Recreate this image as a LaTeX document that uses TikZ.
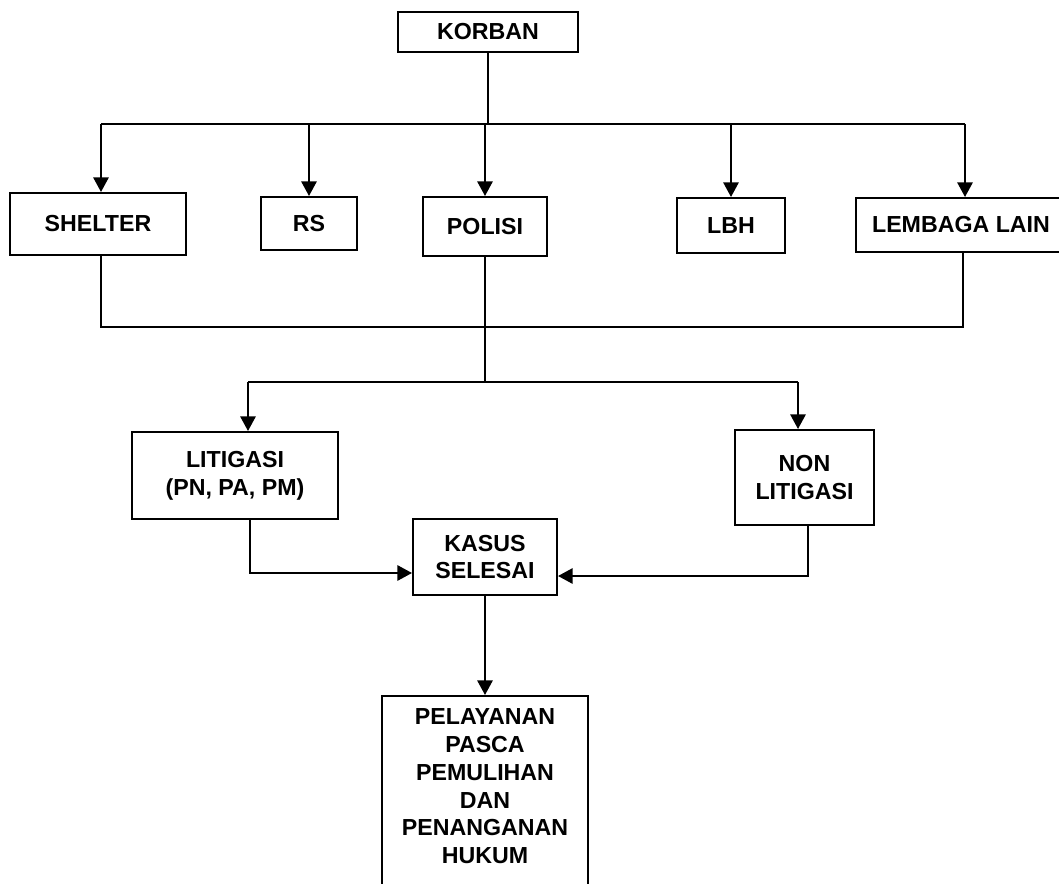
\documentclass[tikz,border=0pt]{standalone}
\usepackage{fontspec}
\setmainfont{Liberation Sans}
\usetikzlibrary{arrows.meta,calc}
\begin{document}
\begin{tikzpicture}[x=0.75pt,y=-0.75pt,
  box/.style={draw,line width=1.5pt,align=center,inner sep=0pt,
    font=\fontsize{17.4}{20.8}\selectfont\bfseries},
  conn/.style={line width=1.5pt},
  arr/.style={line width=1.5pt,-{Triangle[width=11.5pt,length=11pt]}}]
\useasboundingbox (0,0) rectangle (1059,884);
\fill[white] (0,0) rectangle (1059,884);
\clip (0,0) rectangle (1059,884);

\node[box,minimum width=135pt,minimum height=30pt] (korban) at (488,32) {KORBAN};
\node[box,minimum width=132pt,minimum height=46.5pt] (shelter) at (98,224) {SHELTER};
\node[box,minimum width=72pt,minimum height=39.75pt] (rs) at (309,223.5) {RS};
\node[box,minimum width=93pt,minimum height=44.25pt] (polisi) at (485,226.5) {POLISI};
\node[box,minimum width=81pt,minimum height=41.25pt] (lbh) at (731,225.5) {LBH};
\node[box,minimum width=157.5pt,minimum height=40.5pt] (lain) at (961,225) {LEMBAGA LAIN};
\node[box,minimum width=154.5pt,minimum height=65.25pt] (lit) at (235,475.5) {LITIGASI\\(PN, PA, PM)};
\node[box,minimum width=104.25pt,minimum height=71.25pt] (non) at (804.5,477.5) {NON\\LITIGASI};
\node[box,minimum width=108pt,minimum height=57pt] (kasus) at (485,557) {KASUS\\SELESAI};
\node[box,minimum width=154.5pt,inner ysep=9.75pt,anchor=north] (pel) at (485,695)
  {PELAYANAN\\PASCA\\PEMULIHAN\\DAN\\PENANGANAN\\HUKUM\rule[-40pt]{0pt}{0pt}};

% top distribution
\coordinate (tl) at (101,124);
\coordinate (tr) at (965,124);
\draw[conn] (korban.south) -- (korban.south |- tl);
\draw[conn] (tl) -- (tr);
\draw[arr] (tl) -- (tl |- shelter.north);
\draw[arr] (rs.north |- tl) -- (rs.north);
\draw[arr] (polisi.north |- tl) -- (polisi.north);
\draw[arr] (lbh.north |- tl) -- (lbh.north);
\draw[arr] (tr) -- (tr |- lain.north);

% lower collection
\coordinate (bl) at (101,327);
\coordinate (br) at (963,327);
\draw[conn] (bl |- shelter.south) -- (bl) -- (br) -- (br |- lain.south);

% split
\coordinate (sl) at (248,382);
\coordinate (sr) at (798,382);
\draw[conn] (polisi.south) -- (polisi.south |- sl);
\draw[conn] (sl) -- (sr);
\draw[arr] (sl) -- (sl |- lit.north);
\draw[arr] (sr) -- (sr |- non.north);

% to kasus
\coordinate (kl) at (250,573);
\coordinate (kr) at (808,576);
\draw[arr] (kl |- lit.south) -- (kl) -- (kl -| kasus.west);
\draw[arr] (kr |- non.south) -- (kr) -- (kr -| kasus.east);

\draw[arr] (kasus.south) -- (pel.north);
\end{tikzpicture}
\end{document}
